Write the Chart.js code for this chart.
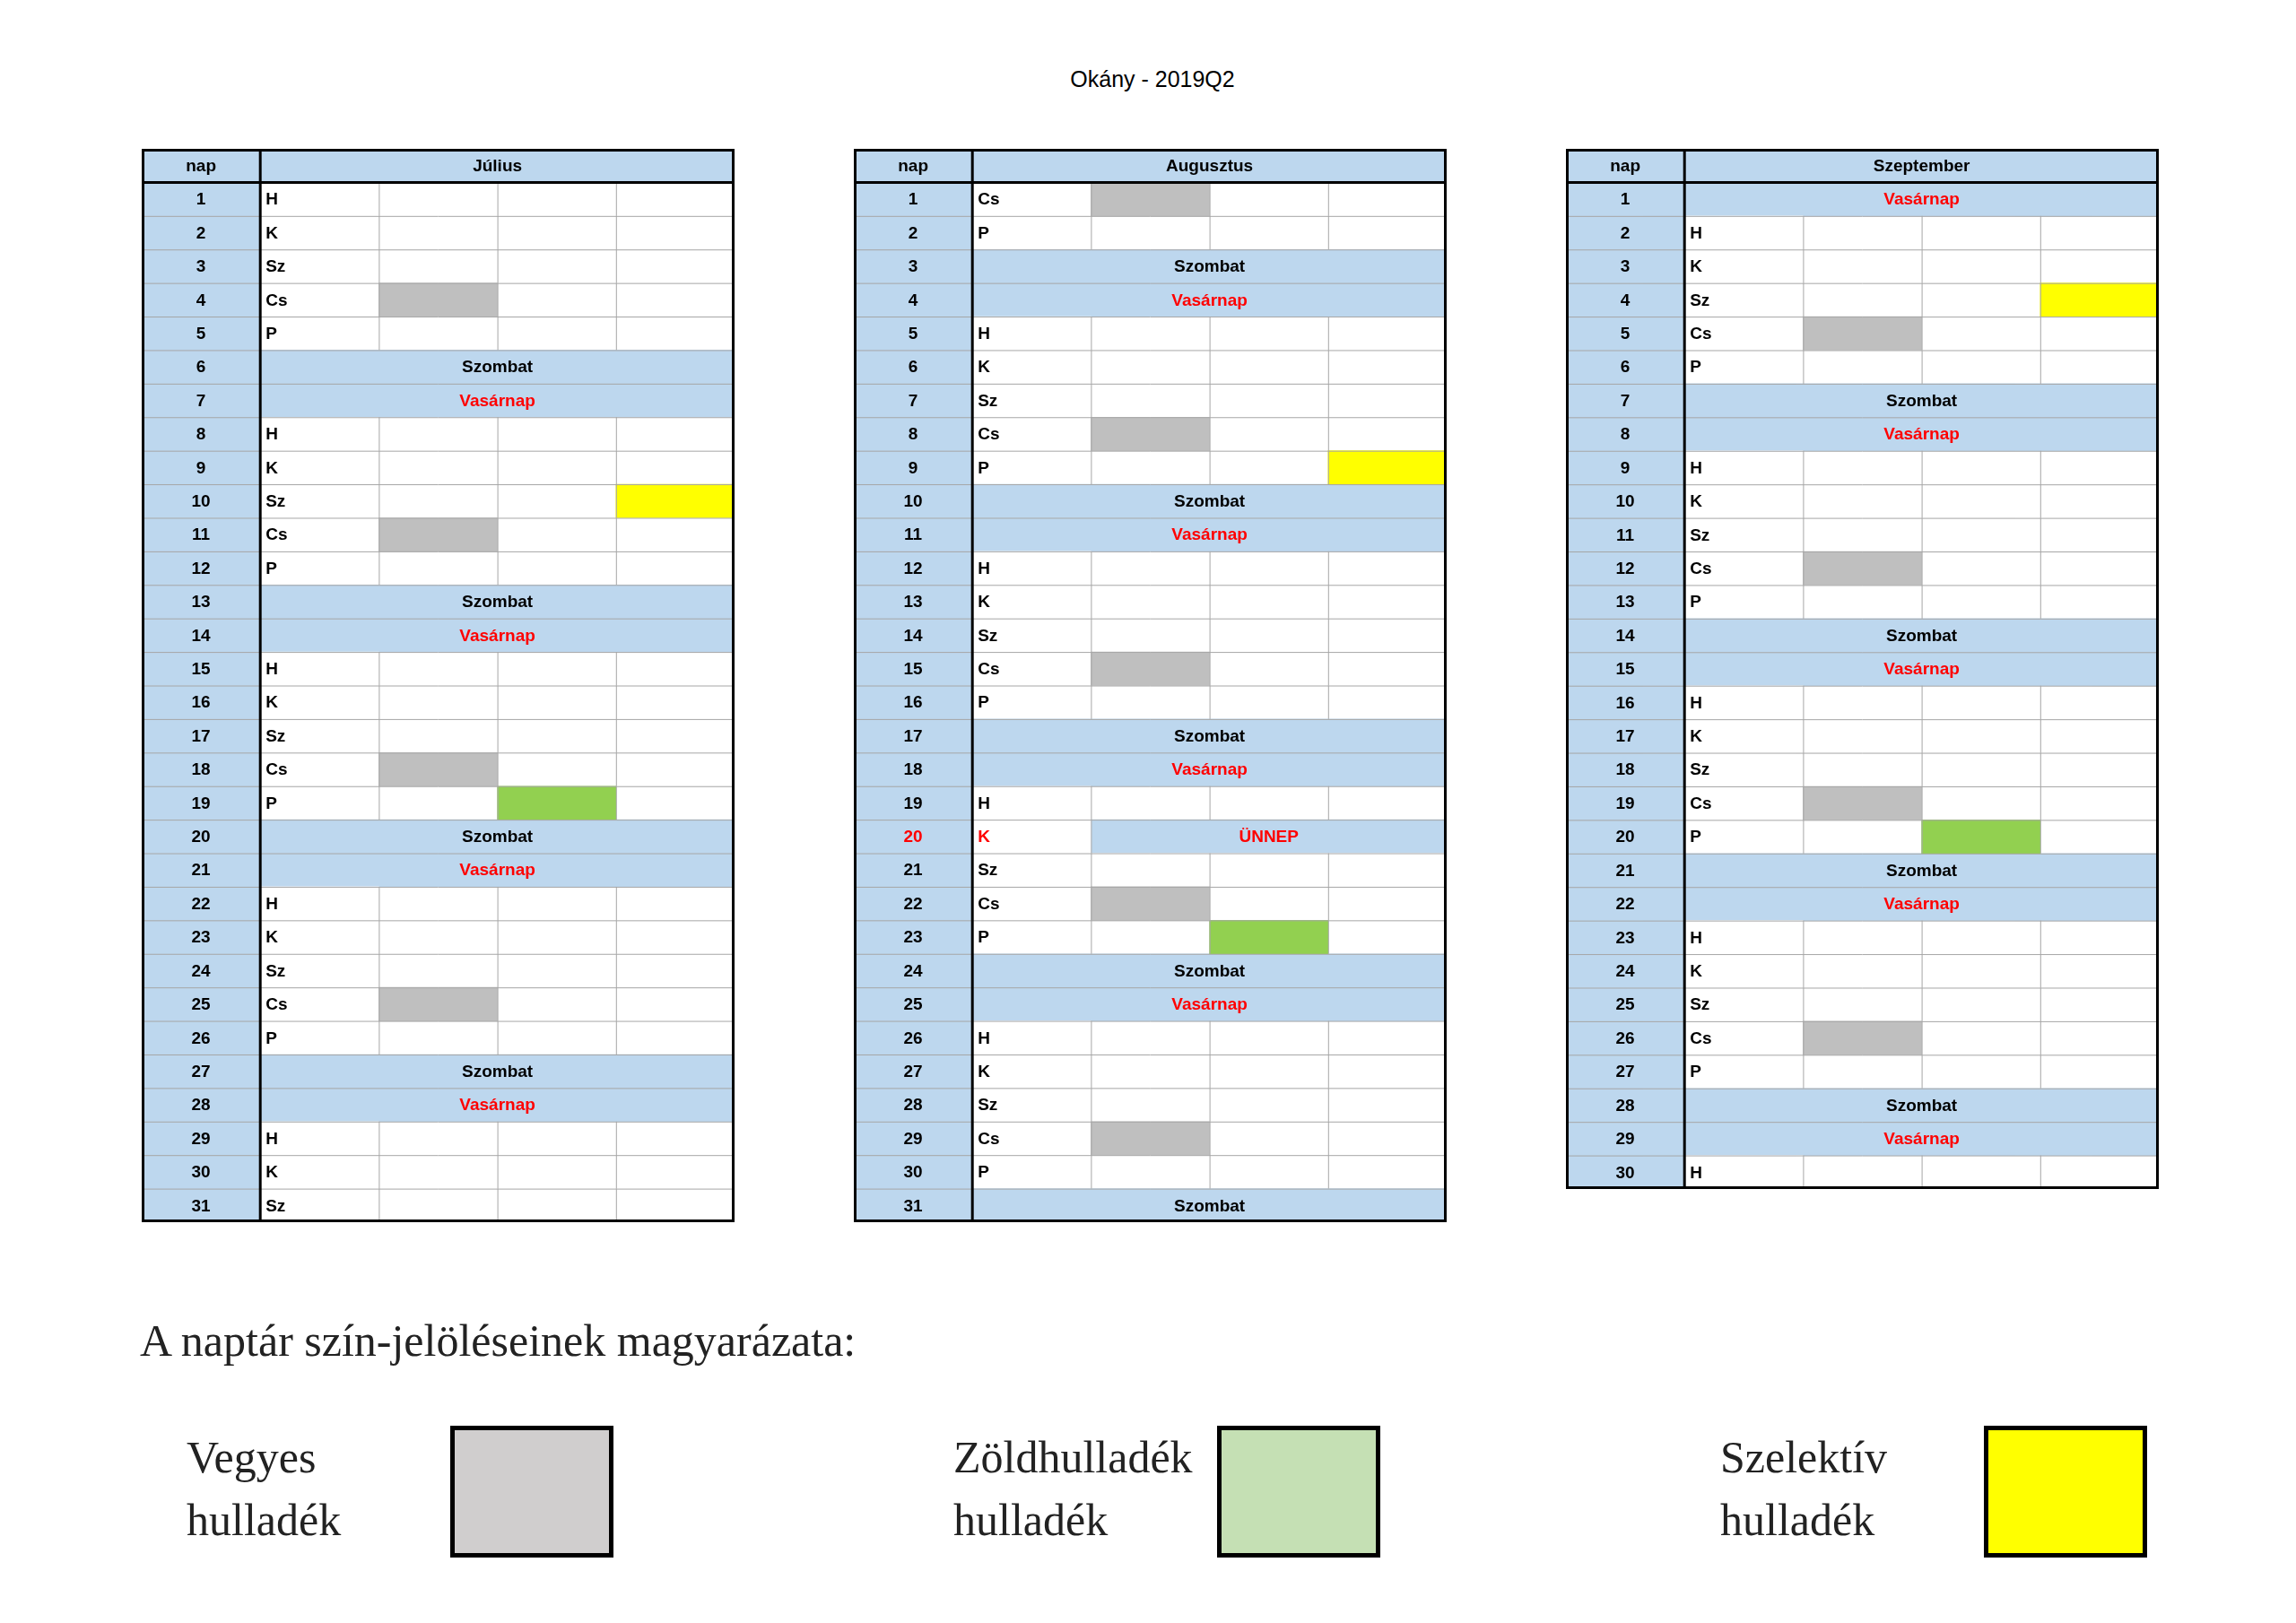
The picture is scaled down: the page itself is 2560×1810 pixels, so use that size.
<!DOCTYPE html>
<html>
<head>
<meta charset="utf-8">
<script src="https://cdn.jsdelivr.net/npm/chart.js@4/dist/chart.umd.min.js"></script>
<style>
  body { margin: 0; background: #fff; width: 2560px; height: 1810px; position: relative; overflow: hidden; }
  canvas.tbl { position: absolute; }
  .title { position: absolute; top: 74px; left: 0; width: 2570px; text-align: center; font: 25px "Liberation Sans", Arial, sans-serif; }
  .leghead { position: absolute; left: 156px; top: 1466px; font: 50px "Liberation Serif", "DejaVu Serif", serif; color: #222; }
  .lbl { position: absolute; font: 50px "Liberation Serif", "DejaVu Serif", serif; color: #222; line-height: 70px; }
  .box { position: absolute; top: 1590px; width: 172px; height: 137px; border: 5px solid #000; }
</style>
</head>
<body>
<div class="title">Okány - 2019Q2</div>
<canvas class="tbl" id="jul" width="661" height="1197" style="left:158px;top:166px"></canvas>
<canvas class="tbl" id="aug" width="661" height="1197" style="left:952px;top:166px"></canvas>
<canvas class="tbl" id="sep" width="661" height="1160" style="left:1746px;top:166px"></canvas>

<div class="leghead">A naptár szín-jelöléseinek magyarázata:</div>
<div class="lbl" style="left:208px;top:1590px">Vegyes<br>hulladék</div>
<div class="box" style="left:502px;background:#d0cece"></div>
<div class="lbl" style="left:1063px;top:1590px">Zöldhulladék<br>hulladék</div>
<div class="box" style="left:1357px;background:#c5e0b4"></div>
<div class="lbl" style="left:1918px;top:1590px">Szelektív<br>hulladék</div>
<div class="box" style="left:2212px;background:#ffff00"></div>

<script>
// napok (S = Szombat, V = Vasárnap, U = ünnep)
const julyDays = ["H","K","Sz","Cs","P","S","V","H","K","Sz","Cs","P","S","V","H","K","Sz","Cs","P","S","V","H","K","Sz","Cs","P","S","V","H","K","Sz"];
const augDays  = ["Cs","P","S","V","H","K","Sz","Cs","P","S","V","H","K","Sz","Cs","P","S","V","H","U","Sz","Cs","P","S","V","H","K","Sz","Cs","P","S"];
const sepDays  = ["V","H","K","Sz","Cs","P","S","V","H","K","Sz","Cs","P","S","V","H","K","Sz","Cs","P","S","V","H","K","Sz","Cs","P","S","V","H"];

// gyűjtési napok
const julyGray = [4, 11, 18, 25], julyGreen = [19], julyYellow = [10];
const augGray = [1, 8, 15, 22, 29], augGreen = [23], augYellow = [9];
const sepGray = [5, 12, 19, 26], sepGreen = [20], sepYellow = [4];

const BLUE = "#bdd7ee", RED = "#ff0000";
const FONT = "bold 19px 'Liberation Sans Narrow', 'Liberation Sans', Arial, sans-serif";

function buildTable(id, month, days, gray, green, yellow) {
    const labels = ["nap"].concat(days.map((d, i) => String(i + 1)));
    const kind = i => (i === 0 ? "head" : days[i - 1]);
    const wide = i => ["S", "V", "head"].includes(kind(i));

    const napCol = labels.map(() => [0, 1]);
    const dayCell = labels.map((l, i) => wide(i) ? [1, 5] : [1, 2]);
    const dayColors = labels.map((l, i) => wide(i) ? BLUE : "#fff");
    const rest = labels.map((l, i) => wide(i) ? null : [2, 5]);
    const restColors = labels.map((l, i) => kind(i) === "U" ? BLUE : "#fff");

    const markSet = (list, col) => labels.map((l, i) => list.includes(i) ? [col, col + 1] : null);

    const tablePlugin = {
        id: "tableLines",
        afterDatasetsDraw(chart) {
            const c = chart.ctx, x = chart.scales.x, y = chart.scales.y;
            const n = labels.length;
            const rowTop = i => (i === 0 ? y.top : (y.getPixelForValue(i - 1) + y.getPixelForValue(i)) / 2);
            const rowBot = i => (i === n - 1 ? y.bottom : (y.getPixelForValue(i) + y.getPixelForValue(i + 1)) / 2);
            const xp = v => x.getPixelForValue(v);
            c.save();
            // thin grid
            c.strokeStyle = "#a6a6a6";
            c.lineWidth = 1;
            for (let i = 1; i < n; i++) {
                c.beginPath(); c.moveTo(xp(0), rowTop(i) + 0.5); c.lineTo(xp(5), rowTop(i) + 0.5); c.stroke();
                const k = kind(i);
                if (k === "S" || k === "V") continue;
                for (let col = 2; col <= 4; col++) {
                    if (k === "U" && col > 2) continue;
                    c.beginPath(); c.moveTo(xp(col) + 0.5, rowTop(i)); c.lineTo(xp(col) + 0.5, rowBot(i)); c.stroke();
                }
            }
            // thick lines
            c.strokeStyle = "#000";
            c.lineWidth = 3;
            c.strokeRect(xp(0) + 1.5, y.top + 1.5, xp(5) - xp(0) - 3, y.bottom - y.top - 3);
            c.beginPath(); c.moveTo(xp(0), rowBot(0)); c.lineTo(xp(5), rowBot(0)); c.stroke();
            c.beginPath(); c.moveTo(xp(1), y.top); c.lineTo(xp(1), y.bottom); c.stroke();
            // text
            c.font = FONT;
            c.textBaseline = "middle";
            for (let i = 0; i < n; i++) {
                const yc = y.getPixelForValue(i) + 1;
                const k = kind(i);
                c.textAlign = "center";
                c.fillStyle = k === "U" ? RED : "#000";
                c.fillText(labels[i], (xp(0) + xp(1)) / 2, yc);
                if (k === "head") { c.fillStyle = "#000"; c.fillText(month, (xp(1) + xp(5)) / 2, yc); }
                else if (k === "S") { c.fillStyle = "#000"; c.fillText("Szombat", (xp(1) + xp(5)) / 2, yc); }
                else if (k === "V") { c.fillStyle = RED; c.fillText("Vasárnap", (xp(1) + xp(5)) / 2, yc); }
                else if (k === "U") {
                    c.fillStyle = RED; c.fillText("ÜNNEP", (xp(2) + xp(5)) / 2, yc);
                    c.textAlign = "left"; c.fillText("K", xp(1) + 6, yc);
                } else {
                    c.textAlign = "left"; c.fillStyle = "#000"; c.fillText(k, xp(1) + 6, yc);
                }
            }
            c.restore();
        }
    };

    // Chart.js draws the first dataset on top, so the coloured marks come first
    const common = { grouped: false, borderWidth: 0, categoryPercentage: 1, barPercentage: 1 };
    new Chart(document.getElementById(id), {
        type: "bar",
        data: {
            labels: labels,
            datasets: [
                { ...common, label: "Vegyes", data: markSet(gray, 2), backgroundColor: "#bfbfbf" },
                { ...common, label: "Zöld", data: markSet(green, 3), backgroundColor: "#92d050" },
                { ...common, label: "Szelektív", data: markSet(yellow, 4), backgroundColor: "#ffff00" },
                { ...common, label: "nap", data: napCol, backgroundColor: BLUE },
                { ...common, label: "nap betű", data: dayCell, backgroundColor: dayColors },
                { ...common, label: "többi", data: rest, backgroundColor: restColors }
            ]
        },
        options: {
            indexAxis: "y",
            responsive: false,
            animation: false,
            devicePixelRatio: 1,
            layout: { padding: 0 },
            plugins: { legend: { display: false }, tooltip: { enabled: false } },
            scales: {
                x: { type: "linear", min: 0, max: 5, display: false },
                y: { display: false, offset: true }
            }
        },
        plugins: [tablePlugin]
    });
}

buildTable("jul", "Július", julyDays, julyGray, julyGreen, julyYellow);
buildTable("aug", "Augusztus", augDays, augGray, augGreen, augYellow);
buildTable("sep", "Szeptember", sepDays, sepGray, sepGreen, sepYellow);
</script>
</body>
</html>
